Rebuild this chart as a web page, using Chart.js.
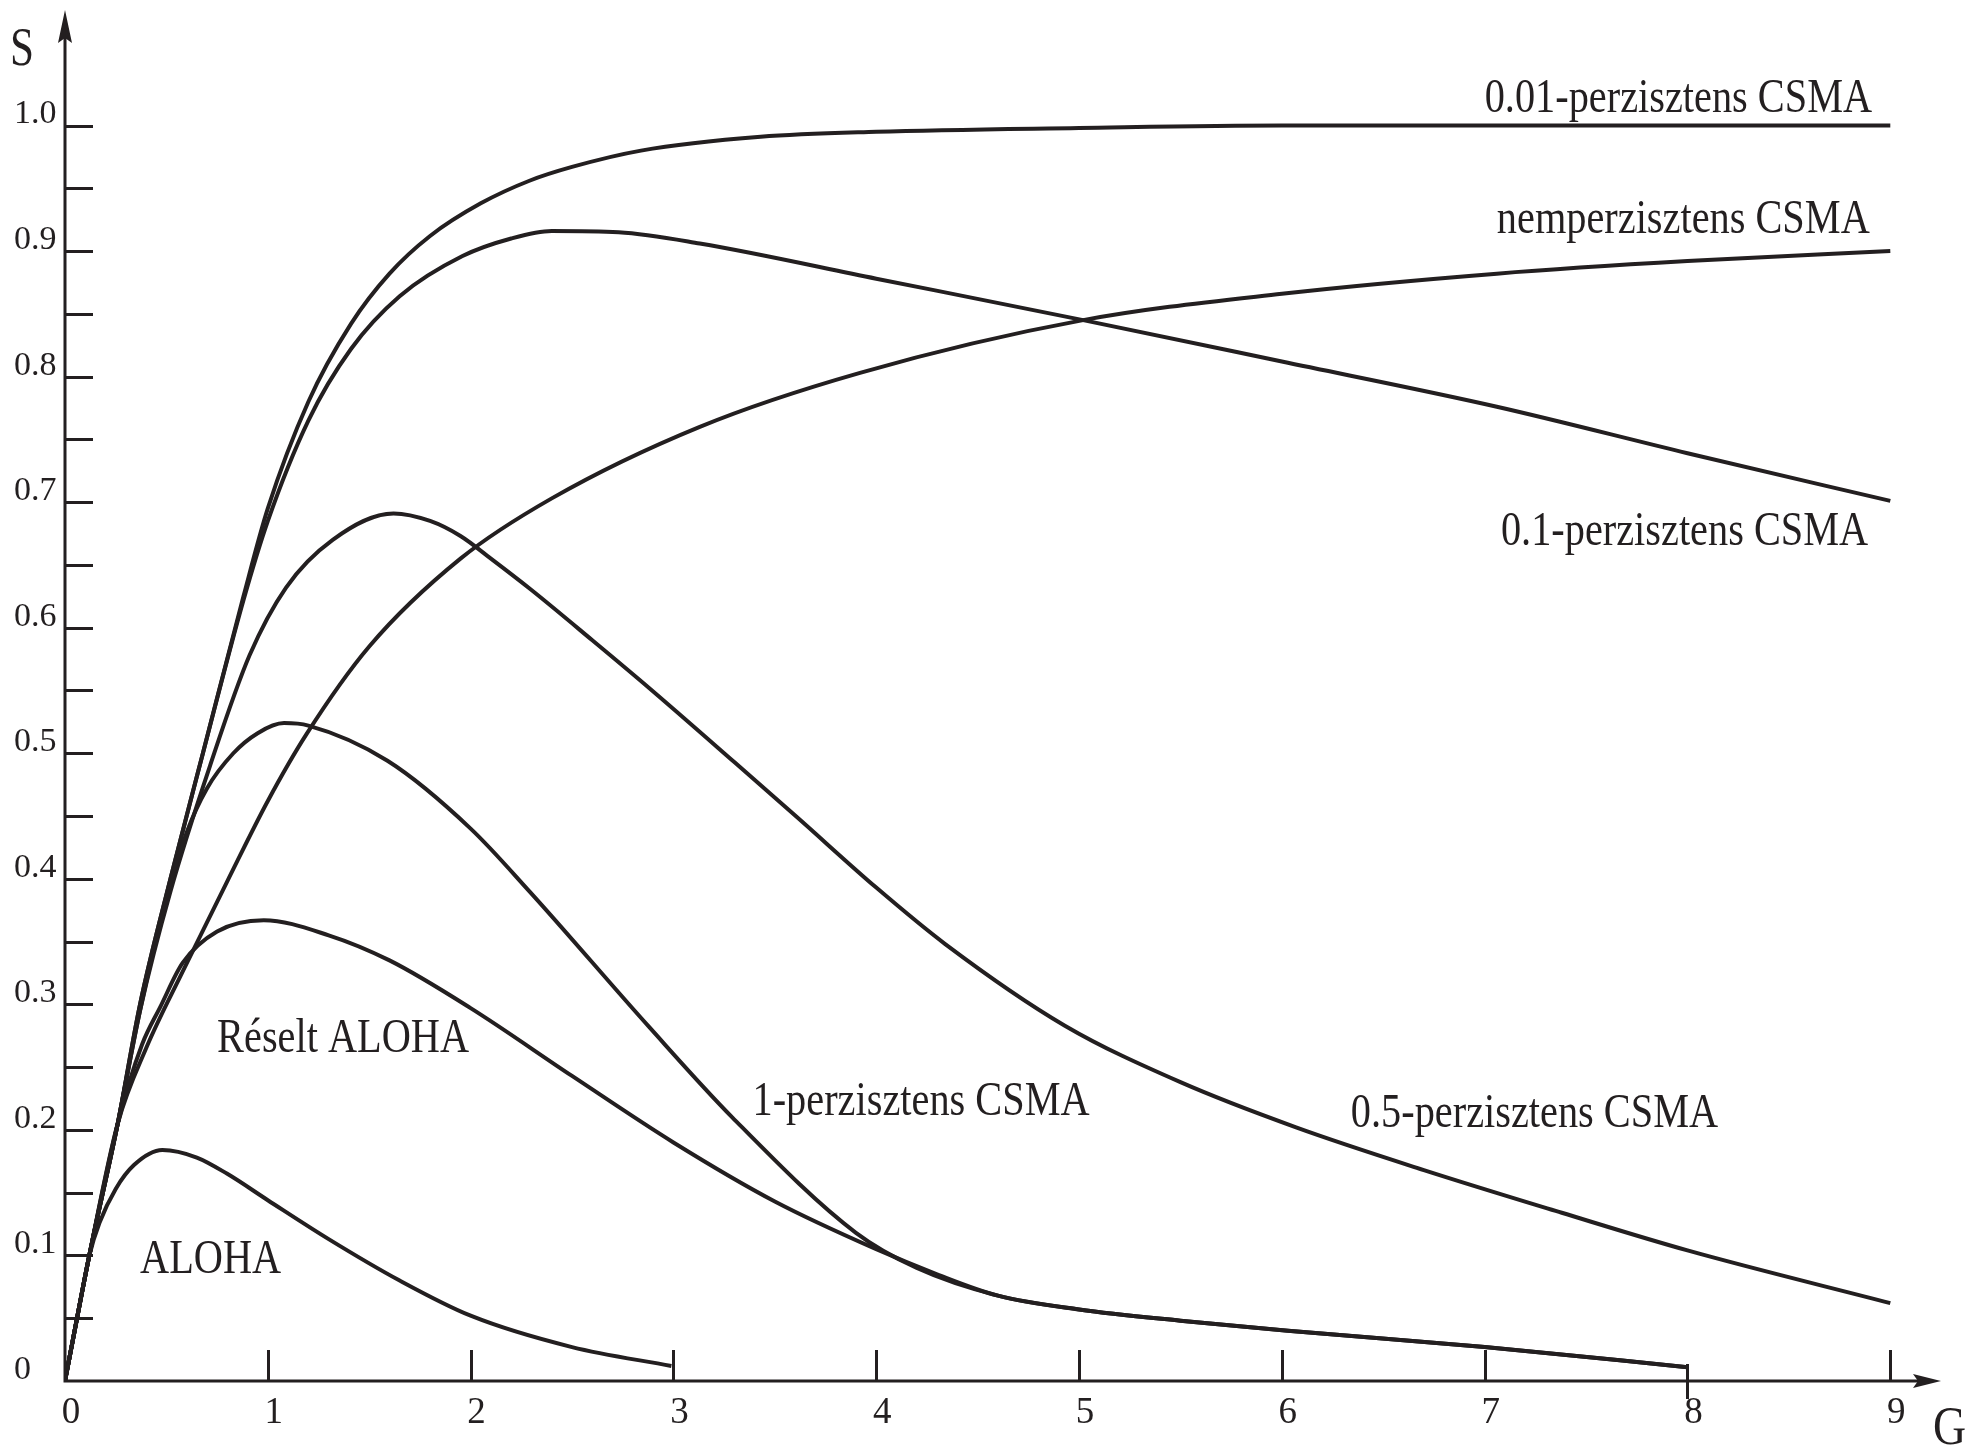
<!DOCTYPE html>
<html>
<head>
<meta charset="utf-8">
<script src="https://cdn.jsdelivr.net/npm/chart.js@4.4.1/dist/chart.umd.min.js"></script>
<style>
  html, body { margin: 0; padding: 0; background: #fff; }
  canvas { display: block; }
</style>
</head>
<body>
<canvas id="csmaChart" width="1975" height="1447"></canvas>
<script>
// Tengelyek
const xTickValues = [0, 1, 2, 3, 4, 5, 6, 7, 8, 9];
const xTickLabels = ['0', '1', '2', '3', '4', '5', '6', '7', '8', '9'];
const yTickValues = [0, 0.05, 0.1, 0.15, 0.2, 0.25, 0.3, 0.35, 0.4, 0.45, 0.5,
                     0.55, 0.6, 0.65, 0.7, 0.75, 0.8, 0.85, 0.9, 0.95, 1.0];
const yTickLabels = ['0', '', '0.1', '', '0.2', '', '0.3', '', '0.4', '', '0.5',
                     '', '0.6', '', '0.7', '', '0.8', '', '0.9', '', '1.0'];

// Görbék (G terhelés, S áteresztés)
const gAloha = [0, 0.06, 0.12, 0.17, 0.25, 0.34, 0.48, 0.65, 0.8, 1.0, 1.3, 1.65, 2.0, 2.5, 2.99];
const sAloha = [0, 0.05, 0.1, 0.126, 0.153, 0.172, 0.184, 0.178, 0.165, 0.144, 0.113, 0.08, 0.052, 0.027, 0.012];

const gSlotted = [0, 0.12, 0.26, 0.38, 0.47, 0.58, 0.75, 0.98, 1.3, 1.6, 2.0, 2.5, 3.0, 3.5, 4.0, 4.3, 4.6, 5, 5.5, 6.03, 7, 8];
const sSlotted = [0, 0.1, 0.205, 0.268, 0.298, 0.333, 0.358, 0.367, 0.355, 0.335, 0.297, 0.243, 0.19, 0.143, 0.105, 0.085, 0.068, 0.057, 0.048, 0.04, 0.027, 0.011];

const g1p = [0, 0.12, 0.26, 0.37, 0.5, 0.6, 0.7, 0.83, 0.95, 1.08, 1.2, 1.59, 2.0, 2.29, 2.88, 3.29, 3.9, 4.2, 4.6, 5, 5.5, 6.03, 7, 8];
const s1p = [0, 0.1, 0.205, 0.295, 0.385, 0.437, 0.472, 0.5, 0.516, 0.524, 0.522, 0.494, 0.44, 0.39, 0.282, 0.21, 0.118, 0.09, 0.068, 0.057, 0.048, 0.04, 0.027, 0.011];

const g05p = [0, 0.12, 0.26, 0.37, 0.52, 0.715, 0.91, 1.09, 1.32, 1.62, 1.8, 1.95, 2.1, 2.3, 2.6, 2.88, 3.3, 3.61, 4.0, 4.34, 4.93, 5.5, 6.07, 6.7, 7.38, 8.0, 9.0];
const s05p = [0, 0.1, 0.205, 0.295, 0.39, 0.49, 0.578, 0.632, 0.67, 0.691, 0.685, 0.673, 0.655, 0.63, 0.59, 0.552, 0.493, 0.449, 0.393, 0.348, 0.283, 0.238, 0.202, 0.168, 0.134, 0.104, 0.062];

const g01p = [0, 0.12, 0.26, 0.37, 0.52, 0.68, 0.88, 1.0, 1.2, 1.41, 1.65, 1.96, 2.2, 2.4, 2.73, 3.13, 4.0, 5.02, 6, 7.06, 8, 9];
const s01p = [0, 0.1, 0.205, 0.3, 0.4, 0.5, 0.622, 0.685, 0.765, 0.822, 0.864, 0.896, 0.91, 0.916, 0.915, 0.906, 0.878, 0.845, 0.812, 0.776, 0.739, 0.701];

const g001p = [0, 0.12, 0.26, 0.37, 0.52, 0.68, 0.88, 1.0, 1.2, 1.41, 1.6, 1.8, 2.05, 2.29, 2.5, 2.84, 3.43, 4, 5, 6, 7, 8, 9];
const s001p = [0, 0.1, 0.205, 0.3, 0.4, 0.5, 0.625, 0.695, 0.78, 0.842, 0.882, 0.912, 0.938, 0.956, 0.967, 0.98, 0.991, 0.995, 0.998, 1.0, 1.0, 1.0, 1.0];

const gNonp = [0, 0.12, 0.26, 0.4, 0.58, 0.8, 1.0, 1.19, 1.5, 1.95, 2.4, 3.13, 3.92, 5.02, 6, 7.06, 8, 9];
const sNonp = [0, 0.1, 0.205, 0.265, 0.326, 0.398, 0.462, 0.515, 0.585, 0.655, 0.703, 0.76, 0.803, 0.845, 0.866, 0.882, 0.892, 0.9];

// Feliratok: szöveg, bal szél (G) és alapvonal (S)
const curveLabels = ['ALOHA', 'Réselt ALOHA', '1-perzisztens CSMA', '0.5-perzisztens CSMA',
                     '0.1-perzisztens CSMA', 'nemperzisztens CSMA', '0.01-perzisztens CSMA'];
const labelG = [0.37, 0.75, 3.39, 6.34, 7.08, 7.06, 7.0];
const labelS = [0.086, 0.262, 0.212, 0.202, 0.666, 0.914, 1.011];

const INK = '#231f20';

function toPoints(gs, ss) {
    return gs.map((g, i) => ({ x: g, y: ss[i] }));
}

const series = [
    ['ALOHA', gAloha, sAloha],
    ['Réselt ALOHA', gSlotted, sSlotted],
    ['1-perzisztens CSMA', g1p, s1p],
    ['0.5-perzisztens CSMA', g05p, s05p],
    ['0.1-perzisztens CSMA', g01p, s01p],
    ['0.01-perzisztens CSMA', g001p, s001p],
    ['nemperzisztens CSMA', gNonp, sNonp]
];

// Tengelyek, nyilak, belső osztások és feliratok
const axesPlugin = {
    id: 'axesPlugin',
    afterDatasetsDraw(chart) {
        const c = chart.ctx;
        const xs = chart.scales.x;
        const ys = chart.scales.y;
        const ox = xs.getPixelForValue(0);
        const oy = ys.getPixelForValue(0);
        const top = chart.chartArea.top;
        const right = chart.chartArea.right;

        c.save();
        c.strokeStyle = INK;
        c.fillStyle = INK;
        c.lineWidth = 3;
        c.lineCap = 'butt';

        // tengelyvonalak
        c.beginPath();
        c.moveTo(ox, oy + 1.5);
        c.lineTo(ox, top + 20);
        c.moveTo(ox - 1.5, oy);
        c.lineTo(right - 20, oy);
        c.stroke();

        // nyilak
        c.beginPath();
        c.moveTo(ox, top);
        c.lineTo(ox - 7, top + 33);
        c.lineTo(ox, top + 28);
        c.lineTo(ox + 7, top + 33);
        c.closePath();
        c.fill();
        c.beginPath();
        c.moveTo(right, oy);
        c.lineTo(right - 28, oy - 7);
        c.lineTo(right - 23, oy);
        c.lineTo(right - 28, oy + 7);
        c.closePath();
        c.fill();

        // osztások
        c.beginPath();
        yTickValues.forEach(v => {
            if (v === 0) return;
            const py = Math.round(ys.getPixelForValue(v)) + 0.5;
            c.moveTo(ox, py);
            c.lineTo(ox + 28, py);
        });
        xTickValues.forEach(v => {
            if (v === 0) return;
            const px = Math.round(xs.getPixelForValue(v)) + 0.5;
            if (v === 8) {
                c.moveTo(px, oy - 17);
                c.lineTo(px, oy + 18);
            } else {
                c.moveTo(px, oy);
                c.lineTo(px, oy - 31);
            }
        });
        c.stroke();

        // görbefeliratok (keskenyített antikva)
        c.font = '48px "Liberation Serif", "Times New Roman", serif';
        c.textAlign = 'left';
        c.textBaseline = 'alphabetic';
        curveLabels.forEach((txt, i) => {
            c.save();
            c.translate(xs.getPixelForValue(labelG[i]), ys.getPixelForValue(labelS[i]));
            c.scale(0.84, 1);
            c.fillText(txt, 0, 0);
            c.restore();
        });

        // tengelynevek
        c.font = '54px "Liberation Serif", "Times New Roman", serif';
        c.save();
        c.translate(ox - 55, top + 55);
        c.scale(0.8, 1);
        c.fillText('S', 0, 0);
        c.restore();
        c.save();
        c.translate(right - 8, oy + 63);
        c.scale(0.85, 1);
        c.fillText('G', 0, 0);
        c.restore();

        c.restore();
    }
};

document.addEventListener('DOMContentLoaded', function() {
    const ctx = document.getElementById('csmaChart').getContext('2d');

    const datasets = series.map(s => ({
        label: s[0],
        data: toPoints(s[1], s[2]),
        borderColor: INK,
        borderWidth: 4,
        pointRadius: 0,
        fill: false,
        cubicInterpolationMode: 'monotone'
    }));

    const serif = '"Liberation Serif", "Times New Roman", serif';

    new Chart(ctx, {
        type: 'line',
        data: { datasets: datasets },
        options: {
            responsive: false,
            animation: false,
            layout: {
                autoPadding: false,
                padding: { left: 14, top: 10, right: 34, bottom: 0 }
            },
            plugins: {
                legend: { display: false },
                tooltip: { enabled: false }
            },
            scales: {
                x: {
                    type: 'linear',
                    min: 0,
                    max: 9.25,
                    grid: { display: false, drawTicks: false },
                    border: { display: false },
                    afterBuildTicks: axis => { axis.ticks = xTickValues.map(v => ({ value: v })); },
                    afterFit: axis => { axis.height = 66; },
                    ticks: {
                        autoSkip: false,
                        maxRotation: 0,
                        padding: 10,
                        labelOffset: 6,
                        color: INK,
                        font: { family: serif, size: 37 },
                        callback: (v, i) => xTickLabels[i]
                    }
                },
                y: {
                    type: 'linear',
                    min: 0,
                    max: 1.092,
                    grid: { display: false, drawTicks: false },
                    border: { display: false },
                    afterBuildTicks: axis => { axis.ticks = yTickValues.map(v => ({ value: v })); },
                    afterFit: axis => { axis.width = 51; },
                    ticks: {
                        autoSkip: false,
                        crossAlign: 'far',
                        padding: 0,
                        labelOffset: -11,
                        color: INK,
                        font: { family: serif, size: 34, lineHeight: 0.5 },
                        callback: (v, i) => yTickLabels[i]
                    }
                }
            }
        },
        plugins: [axesPlugin]
    });
});
</script>
</body>
</html>
